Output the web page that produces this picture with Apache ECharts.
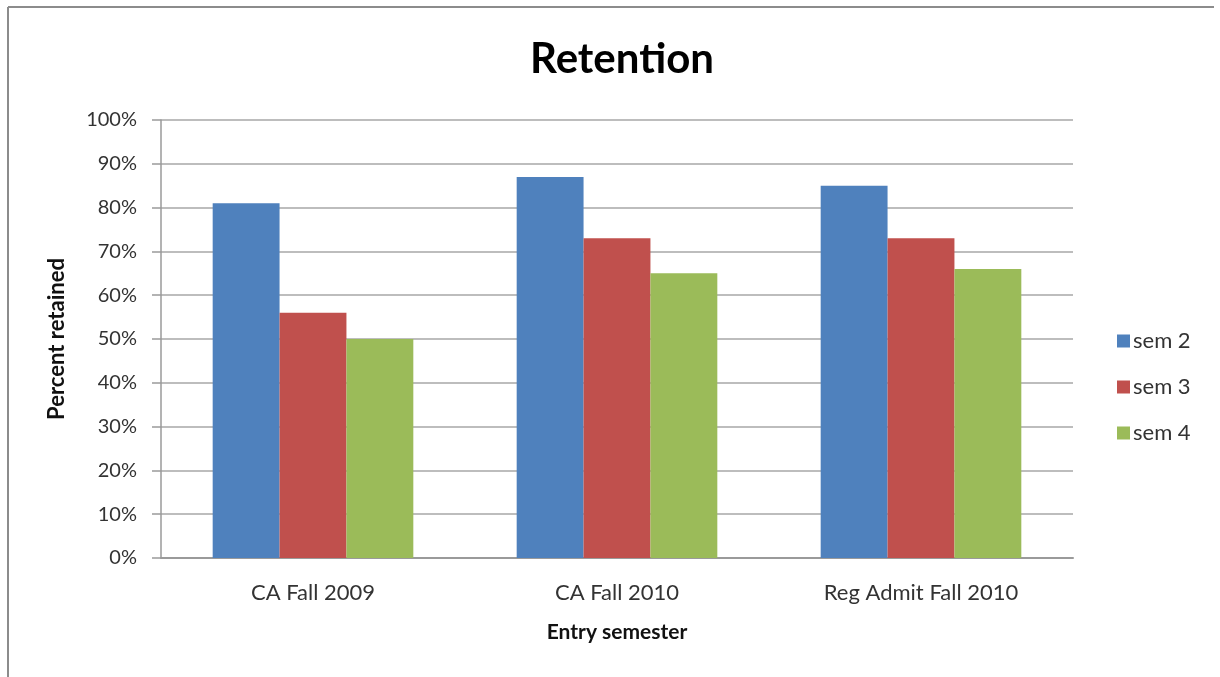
<!DOCTYPE html>
<html>
<head>
<meta charset="utf-8">
<script src="https://cdn.jsdelivr.net/npm/echarts@6/dist/echarts.min.js"></script>
<style>
  html, body { margin: 0; padding: 0; background: #ffffff; }
  #chart { width: 1220px; height: 677px; }
</style>
</head>
<body>
<div id="chart"></div>
<script>
// Entry cohorts and retention (%) by semester
const categories = ['CA Fall 2009', 'CA Fall 2010', 'Reg Admit Fall 2010'];
const sem2 = [81, 87, 85];
const sem3 = [56, 73, 73];
const sem4 = [50, 65, 66];
const seriesNames = ['sem 2', 'sem 3', 'sem 4'];
const seriesColors = ['#4F81BD', '#C0504D', '#9BBB59'];

const FONT = 'Lato, "Open Sans", sans-serif';

const chart = echarts.init(document.getElementById('chart'), null, { renderer: 'canvas' });

const barSeries = [sem2, sem3, sem4].map((values, i) => ({
  name: seriesNames[i],
  type: 'bar',
  data: values,
  barGap: '0%',
  barCategoryGap: '34%',
  itemStyle: { color: seriesColors[i] },
  emphasis: { disabled: true }
}));

chart.setOption({
  animation: false,
  backgroundColor: '#ffffff',
  title: {
    text: 'Retention',
    left: 617,
    textAlign: 'center',
    top: 33,
    textStyle: { fontFamily: FONT, fontSize: 42, fontWeight: 'bold', color: '#000000' }
  },
  legend: {
    orient: 'vertical',
    left: 1112,
    top: 325,
    itemWidth: 13,
    itemHeight: 13,
    itemGap: 24,
    icon: 'rect',
    textStyle: { fontFamily: FONT, fontSize: 22, lineHeight: 22, color: '#333333', padding: [0, 0, 0, -2] },
    data: seriesNames
  },
  grid: { left: 161, right: 147, top: 120, bottom: 119, containLabel: false },
  xAxis: {
    type: 'category',
    data: categories,
    name: 'Entry semester',
    nameLocation: 'middle',
    nameGap: 64,
    nameTextStyle: { fontFamily: FONT, fontSize: 21, fontWeight: 'bold', color: '#111111' },
    axisLine: { lineStyle: { color: '#9a9a9a', width: 2 } },
    axisTick: { show: false },
    axisLabel: { fontFamily: FONT, fontSize: 22, color: '#333333', margin: 24 }
  },
  yAxis: {
    type: 'value',
    min: 0,
    max: 100,
    interval: 10,
    axisLine: { show: true, lineStyle: { color: '#9a9a9a', width: 1.5 } },
    axisTick: { show: true, inside: false, length: 9, lineStyle: { color: '#9a9a9a', width: 1.5 } },
    axisLabel: {
      fontFamily: FONT, fontSize: 20, color: '#333333', margin: 24,
      formatter: v => v + '%'
    },
    splitLine: { lineStyle: { color: '#bdbdbd', width: 2 } }
  },
  graphic: [
    // chart-area frame (left and top edges)
    { type: 'line', shape: { x1: 8, y1: 7, x2: 8, y2: 677 }, style: { stroke: '#8c8c8c', lineWidth: 2 } },
    { type: 'line', shape: { x1: 8, y1: 7, x2: 1214, y2: 7 }, style: { stroke: '#8c8c8c', lineWidth: 2 } },
    {
      type: 'text',
      x: 57,
      y: 339,
      rotation: Math.PI / 2,
      style: {
        text: 'Percent retained',
        fontFamily: FONT,
        fontSize: 22,
        fontWeight: 'bold',
        fill: '#111111',
        textAlign: 'center',
        textVerticalAlign: 'middle'
      }
    }
  ],
  series: barSeries
});
</script>
</body>
</html>
